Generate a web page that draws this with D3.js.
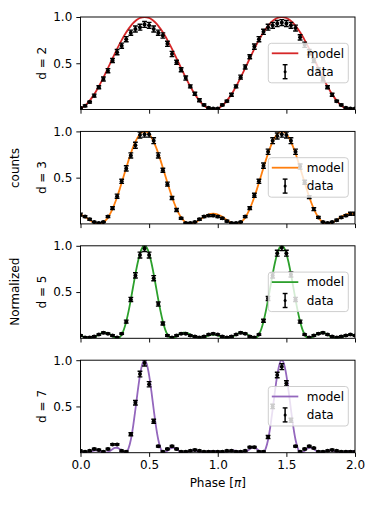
<!DOCTYPE html>
<html>
<head>
<meta charset="utf-8">
<style>
  body { margin: 0; background: #fff; }
  svg { display: block; font-family: "DejaVu Sans", sans-serif; }
</style>
</head>
<body>
<div id="chart"></div>
<script src="https://d3js.org/d3.v7.min.js"></script>
<script>
// sample grids (phase in units of pi)
const modelPhase = [0,.0167,.0333,.05,.0667,.0833,.1,.1167,.1333,.15,.1667,.1833,.2,.2167,.2333,.25,.2667,.2833,.3,.3167,.3333,.35,.3667,.3833,.4,.4167,.4333,.45,.4667,.4833,.5,.5167,.5333,.55,.5667,.5833,.6,.6167,.6333,.65,.6667,.6833,.7,.7167,.7333,.75,.7667,.7833,.8,.8167,.8333,.85,.8667,.8833,.9,.9167,.9333,.95,.9667,.9833,
  1,1.0167,1.0333,1.05,1.0667,1.0833,1.1,1.1167,1.1333,1.15,1.1667,1.1833,1.2,1.2167,1.2333,1.25,1.2667,1.2833,1.3,1.3167,1.3333,1.35,1.3667,1.3833,1.4,1.4167,1.4333,1.45,1.4667,1.4833,1.5,1.5167,1.5333,1.55,1.5667,1.5833,1.6,1.6167,1.6333,1.65,1.6667,1.6833,1.7,1.7167,1.7333,1.75,1.7667,1.7833,1.8,1.8167,1.8333,1.85,1.8667,1.8833,1.9,1.9167,1.9333,1.95,1.9667,1.9833,2];

const dataPhase = [0,.0333,.0667,.1,.1333,.1667,.2,.2333,.2667,.3,.3333,.3667,.4,.4333,.4667,.5,.5333,.5667,.6,.6333,.6667,.7,.7333,.7667,.8,.8333,.8667,.9,.9333,.9667,
  1,1.0333,1.0667,1.1,1.1333,1.1667,1.2,1.2333,1.2667,1.3,1.3333,1.3667,1.4,1.4333,1.4667,1.5,1.5333,1.5667,1.6,1.6333,1.6667,1.7,1.7333,1.7667,1.8,1.8333,1.8667,1.9,1.9333,1.9667,2];

// model curves
const model2 = [.0109,.0245,.0432,.067,.0955,.1284,.1654,.2061,.25,.2966,.3455,.396,.4477,.5,.5523,.604,.6545,.7034,.75,.7939,.8346,.8716,.9045,.933,.9568,.9755,.9891,.9973,1,
  .9973,.9891,.9755,.9568,.933,.9045,.8716,.8346,.7939,.75,.7034,.6545,.604,.5523,.5,.4477,.396,.3455,.2966,.25,.2061,.1654,.1284,.0955,.067,.0432,.0245,.0109,.0027,0,
  .0027,.0109,.0245,.0432,.067,.0955,.1284,.1654,.2061,.25,.2966,.3455,.396,.4477,.5,.5523,.604,.6545,.7034,.75,.7939,.8346,.8716,.9045,.933,.9568,.9755,.9891,.9973,1,
  .9973,.9891,.9755,.9568,.933,.9045,.8716,.8346,.7939,.75,.7034,.6545,.604,.5523,.5,.4477,.396,.3455,.2966,.25,.2061,.1654,.1284,.0955,.067,.0432,.0245,.0109,.0027,0,
  .0027,.0109];

const model3 = [.1016,.0904,.076,.0595,.0424,.0263,.0127,.0034,0,.0039,.0162,.0379,.0695,.1111,.1624,.2227,.2909,.3654,.4444,.5259,.6075,.6869,.7616,.8293,.8881,.9358,.9711,.9927,1,
  .9927,.9711,.9358,.8881,.8293,.7616,.6869,.6075,.5259,.4444,.3654,.2909,.2227,.1624,.1111,.0695,.0379,.0162,.0039,0,.0034,.0127,.0263,.0424,.0595,.076,.0904,.1016,.1087,.1111,
  .1087,.1016,.0904,.076,.0595,.0424,.0263,.0127,.0034,0,.0039,.0162,.0379,.0695,.1111,.1624,.2227,.2909,.3654,.4444,.5259,.6075,.6869,.7616,.8293,.8881,.9358,.9711,.9927,1,
  .9927,.9711,.9358,.8881,.8293,.7616,.6869,.6075,.5259,.4444,.3654,.2909,.2227,.1624,.1111,.0695,.0379,.0162,.0039,0,.0034,.0127,.0263,.0424,.0595,.076,.0904,.1016,.1087,.1111,
  .1087,.1016];

const model5 = [.0303,.0205,.0105,.0029,0,.0031,.012,.0252,.04,.0531,.0611,.0618,.0543,.04,.0223,.0068,0,.009,.04,.097,.1813,.2906,.4189,.5571,.694,.8173,.9152,.9783,1,
  .9783,.9152,.8173,.694,.5571,.4189,.2906,.1813,.097,.04,.009,0,.0068,.0223,.04,.0543,.0618,.0611,.0531,.04,.0252,.012,.0031,0,.0029,.0105,.0205,.0303,.0374,.04,
  .0374,.0303,.0205,.0105,.0029,0,.0031,.012,.0252,.04,.0531,.0611,.0618,.0543,.04,.0223,.0068,0,.009,.04,.097,.1813,.2906,.4189,.5571,.694,.8173,.9152,.9783,1,
  .9783,.9152,.8173,.694,.5571,.4189,.2906,.1813,.097,.04,.009,0,.0068,.0223,.04,.0543,.0618,.0611,.0531,.04,.0252,.012,.0031,0,.0029,.0105,.0205,.0303,.0374,.04,
  .0374,.0303];

const model7 = [.0114,.0043,.0002,.0015,.0078,.0165,.0234,.0251,.0204,.0115,.003,.0001,.0061,.0204,.038,.0514,.0534,.0416,.0204,.0024,.0053,.0471,.1399,.2843,.467,.6621,.8363,.9569,1,
  .9569,.8363,.6621,.467,.2843,.1399,.0471,.0053,.0024,.0204,.0416,.0534,.0514,.038,.0204,.0061,.0001,.003,.0115,.0204,.0251,.0234,.0165,.0078,.0015,.0002,.0043,.0114,.0178,.0204,
  .0178,.0114,.0043,.0002,.0015,.0078,.0165,.0234,.0251,.0204,.0115,.003,.0001,.0061,.0204,.038,.0514,.0534,.0416,.0204,.0024,.0053,.0471,.1399,.2843,.467,.6621,.8363,.9569,1,
  .9569,.8363,.6621,.467,.2843,.1399,.0471,.0053,.0024,.0204,.0416,.0534,.0514,.038,.0204,.0061,.0001,.003,.0115,.0204,.0251,.0234,.0165,.0078,.0015,.0002,.0043,.0114,.0178,.0204,
  .0178,.0114];

// measured points and their error bars
const data2 = [.02,.04,.08,.15,.24,.33,.42,.53,.62,.69,.76,.83,.87,.89,.92,.91,.87,.83,.80,.71,.60,.51,.43,.34,.25,.17,.10,.05,.02,.01,.01,
  .05,.09,.16,.25,.35,.46,.57,.68,.76,.84,.89,.91,.93,.94,.93,.91,.88,.78,.70,.62,.53,.43,.33,.24,.16,.09,.05,.02,.01,.01];
const err2 = [.006,.01,.01,.016,.016,.022,.022,.022,.028,.028,.028,.028,.032,.032,.032,.032,.032,.028,.028,.028,.028,.022,.022,.022,.016,.016,.016,.01,.006,.006,.006,
  .01,.01,.016,.016,.022,.022,.022,.028,.028,.028,.032,.032,.032,.032,.032,.032,.032,.028,.028,.028,.022,.022,.022,.016,.016,.01,.01,.006,.006,.006];

const data3 = [.10,.08,.05,.02,.01,.02,.08,.17,.30,.46,.60,.74,.85,.96,.97,.97,.90,.74,.58,.43,.28,.15,.06,.01,.01,.02,.05,.08,.09,.09,.08,
  .06,.03,.01,.01,.02,.08,.17,.31,.46,.63,.78,.90,.95,.97,.96,.90,.78,.62,.45,.29,.16,.07,.02,.01,.02,.04,.07,.09,.11,.11];
const err3 = [.016,.01,.01,.006,.006,.006,.01,.016,.022,.022,.028,.028,.032,.032,.032,.032,.032,.028,.022,.022,.016,.016,.01,.006,.006,.006,.01,.01,.01,.01,.01,
  .01,.01,.006,.006,.006,.01,.016,.022,.022,.028,.028,.032,.032,.032,.032,.032,.028,.028,.022,.016,.016,.01,.006,.006,.006,.01,.01,.01,.016,.016];

const data5 = [.03,.01,.01,.02,.04,.06,.05,.03,.01,.05,.18,.42,.68,.90,.97,.90,.65,.37,.16,.03,.01,.03,.05,.05,.03,.02,.01,.02,.04,.05,.04,
  .02,.01,.02,.04,.06,.05,.02,.01,.04,.19,.43,.68,.92,.98,.92,.69,.42,.18,.04,.01,.03,.05,.06,.04,.02,.01,.02,.03,.04,.03];
const err5 = [.008,.008,.008,.008,.008,.008,.008,.008,.008,.008,.016,.022,.028,.032,.032,.032,.028,.022,.016,.008,.008,.008,.008,.008,.008,.008,.008,.008,.008,.008,.008,
  .008,.008,.008,.008,.008,.008,.008,.008,.008,.016,.022,.028,.032,.032,.032,.028,.022,.016,.008,.008,.008,.008,.008,.008,.008,.008,.008,.008,.008,.008];

const data7 = [.02,.01,.02,.04,.03,.01,.04,.09,.09,.02,.01,.20,.54,.85,.97,.74,.34,.07,.01,.04,.07,.04,.01,.01,.02,.03,.02,.01,.01,.01,.01,
  .01,.02,.02,.01,.01,.02,.06,.06,.01,.01,.17,.50,.84,.93,.75,.35,.07,.01,.04,.07,.05,.01,.01,.02,.03,.02,.01,.01,.01,.01];
const err7 = [.008,.008,.008,.008,.008,.008,.008,.008,.008,.008,.008,.016,.024,.03,.032,.028,.022,.008,.008,.008,.008,.008,.008,.008,.008,.008,.008,.008,.008,.008,.008,
  .008,.008,.008,.008,.008,.008,.008,.008,.008,.008,.016,.024,.03,.032,.028,.022,.008,.008,.008,.008,.008,.008,.008,.008,.008,.008,.008,.008,.008,.008];

const panelLabels = ["d = 2", "d = 3", "d = 5", "d = 7"];
const panelColors = ["#d62728", "#ff7f0e", "#2ca02c", "#9467bd"];
const models = [model2, model3, model5, model7];
const datas = [data2, data3, data5, data7];
const errs = [err2, err3, err5, err7];
const xTicks = [0, 0.5, 1, 1.5, 2];
const yTicks = [0.5, 1.0];

const width = 390, height = 505;
const left = 80.5, right = 355, top0 = 17, step = 114.4, ph = 92.5;

const svg = d3.select("#chart").append("svg")
  .attr("width", width)
  .attr("height", height);

const x = d3.scaleLinear().domain([0, 2]).range([left, right]);

panelLabels.forEach((label, i) => {
  const top = top0 + i * step;
  const y = d3.scaleLinear().domain([0, 1]).range([top + ph, top]);
  const g = svg.append("g");

  g.append("clipPath").attr("id", "clip" + i)
    .append("rect")
    .attr("x", left).attr("y", top)
    .attr("width", right - left).attr("height", ph);

  const plot = g.append("g").attr("clip-path", `url(#clip${i})`);

  // model line
  const line = d3.line()
    .x(d => x(d[0]))
    .y(d => y(d[1]))
    .curve(d3.curveMonotoneX);
  plot.append("path")
    .datum(modelPhase.map((p, j) => [p, models[i][j]]))
    .attr("d", line)
    .attr("fill", "none")
    .attr("stroke", panelColors[i])
    .attr("stroke-width", 1.8);

  // error bars
  const pts = dataPhase.map((p, k) => ({p: p, v: datas[i][k], e: errs[i][k]}));
  const eb = plot.selectAll(".eb").data(pts).enter().append("g").attr("class", "eb");
  eb.append("line")
    .attr("x1", d => x(d.p)).attr("x2", d => x(d.p))
    .attr("y1", d => y(d.v - d.e)).attr("y2", d => y(d.v + d.e))
    .attr("stroke", "#000").attr("stroke-width", 1.5);
  [-1, 1].forEach(s => {
    eb.append("line")
      .attr("x1", d => x(d.p) - 2.4).attr("x2", d => x(d.p) + 2.4)
      .attr("y1", d => y(d.v + s * d.e)).attr("y2", d => y(d.v + s * d.e))
      .attr("stroke", "#000").attr("stroke-width", 1.4);
  });
  eb.append("circle")
    .attr("cx", d => x(d.p)).attr("cy", d => y(d.v))
    .attr("r", 2).attr("fill", "#000");

  // axes
  const yAxis = d3.axisLeft(y).tickValues(yTicks).tickFormat(d3.format(".1f"))
    .tickSize(4.2).tickPadding(4);
  const ya = g.append("g").attr("transform", `translate(${left},0)`).call(yAxis);

  const xAxis = d3.axisBottom(x).tickValues(xTicks).tickFormat(d3.format(".1f"))
    .tickSize(4.2).tickPadding(4);
  const xa = g.append("g").attr("transform", `translate(0,${top + ph})`).call(xAxis);
  if (i < 3) xa.selectAll("text").remove();

  [ya, xa].forEach(a => {
    a.select(".domain").remove();
    a.selectAll("line").attr("stroke", "#000").attr("stroke-width", 0.96);
    a.selectAll("text").attr("font-size", 12).attr("fill", "#000")
      .attr("font-family", "DejaVu Sans");
  });

  // spines
  g.append("rect")
    .attr("x", left).attr("y", top)
    .attr("width", right - left).attr("height", ph)
    .attr("fill", "none").attr("stroke", "#000").attr("stroke-width", 0.96);

  // panel label
  g.append("text")
    .attr("transform", `translate(46,${top + ph / 2}) rotate(-90)`)
    .attr("text-anchor", "middle")
    .attr("font-size", 12)
    .text(label);

  // legend
  const lx = 268.3, ly = top + 26.3, lw = 80, lh = 39.5;
  const leg = g.append("g");
  leg.append("rect")
    .attr("x", lx).attr("y", ly).attr("width", lw).attr("height", lh)
    .attr("rx", 3).attr("ry", 3)
    .attr("fill", "#fff").attr("fill-opacity", 0.8)
    .attr("stroke", "#cccccc").attr("stroke-width", 0.96);
  leg.append("line")
    .attr("x1", lx + 3.5).attr("x2", lx + 30)
    .attr("y1", ly + 10).attr("y2", ly + 10)
    .attr("stroke", panelColors[i]).attr("stroke-width", 1.8);
  const hx = lx + 16.8, hy = ly + 28.4;
  leg.append("line")
    .attr("x1", hx).attr("x2", hx).attr("y1", hy - 7).attr("y2", hy + 7)
    .attr("stroke", "#000").attr("stroke-width", 1.5);
  [-7, 7].forEach(o => {
    leg.append("line")
      .attr("x1", hx - 2.4).attr("x2", hx + 2.4).attr("y1", hy + o).attr("y2", hy + o)
      .attr("stroke", "#000").attr("stroke-width", 1.4);
  });
  leg.append("circle").attr("cx", hx).attr("cy", hy).attr("r", 1.5).attr("fill", "#000");
  leg.append("text").attr("x", lx + 38.4).attr("y", ly + 10).attr("dy", "0.35em")
    .attr("font-size", 12).text("model");
  leg.append("text").attr("x", lx + 38.4).attr("y", hy).attr("dy", "0.35em")
    .attr("font-size", 12).text("data");
});

// shared y label
svg.append("text")
  .attr("transform", "translate(19,168) rotate(-90)")
  .attr("text-anchor", "middle").attr("font-size", 12)
  .text("counts");
svg.append("text")
  .attr("transform", "translate(19,291.7) rotate(-90)")
  .attr("text-anchor", "middle").attr("font-size", 12)
  .text("Normalized");

// x label
const xl = svg.append("text")
  .attr("x", (left + right) / 2).attr("y", 487)
  .attr("text-anchor", "middle").attr("font-size", 12);
xl.append("tspan").text("Phase [");
xl.append("tspan").attr("font-style", "italic").text("π");
xl.append("tspan").text("]");
</script>
</body>
</html>
